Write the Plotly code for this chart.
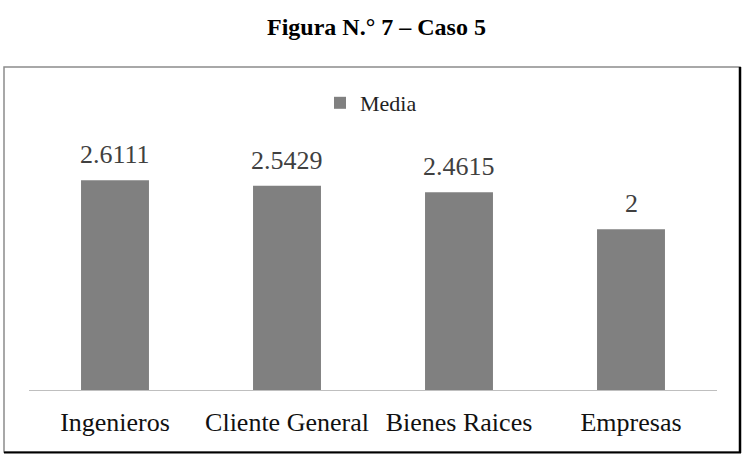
import plotly.graph_objects as go

categories = ["Ingenieros", "Cliente General", "Bienes Raices", "Empresas"]
media_values = [2.6111, 2.5429, 2.4615, 2]
value_labels = ["2.6111", "2.5429", "2.4615", "2"]
series_name = "Media"
title_text = "<b>Figura N.° 7 – Caso 5</b>"

W, H = 748, 457
L, R, T, B = 29, 31, 149, 67
pw, ph = W - L - R, H - T - B

def px(x):
    return (x - L) / pw

def py(y):
    return (H - B - y) / ph

serif = "Liberation Serif"

fig = go.Figure()
fig.add_trace(go.Bar(
    x=categories, y=media_values, name=series_name,
    marker=dict(color="#808080", line=dict(width=0)),
    width=0.395, showlegend=True,
))

for c, v, t in zip(categories, media_values, value_labels):
    fig.add_annotation(x=c, y=v, text=t, showarrow=False, xanchor="center",
                       yanchor="bottom", yshift=9,
                       font=dict(family=serif, size=26, color="#404040"))

fig.update_layout(
    width=W, height=H,
    margin=dict(l=L, r=R, t=T, b=B),
    paper_bgcolor="white", plot_bgcolor="white",
    font=dict(family=serif, color="#000000"),
    showlegend=True,
    legend=dict(x=px(371), y=py(103), xanchor="center", yanchor="middle",
                orientation="h", font=dict(family=serif, size=22, color="#222222"),
                itemwidth=30, bgcolor="rgba(0,0,0,0)"),
    xaxis=dict(showline=True, linecolor="#bfbfbf", linewidth=1, ticks="",
               showgrid=False, ticklabelstandoff=9,
               tickfont=dict(family=serif, size=26, color="#111111")),
    yaxis=dict(range=[0, 3], visible=False, showgrid=False, zeroline=False),
    bargap=0.6,
)

fig.add_annotation(text=title_text, xref="paper", yref="paper",
                   x=px(376), y=py(27), xanchor="center", yanchor="middle",
                   showarrow=False, font=dict(family=serif, size=24, color="#000000"))

# chart border
fig.add_shape(type="rect", xref="paper", yref="paper",
              x0=px(4), x1=px(740), y0=py(452), y1=py(67),
              line=dict(color="#8c8c8c", width=1.5), layer="below")
fig.add_shape(type="line", xref="paper", yref="paper",
              x0=px(740), x1=px(740), y0=py(453), y1=py(67),
              line=dict(color="#000000", width=2.5))
fig.add_shape(type="line", xref="paper", yref="paper",
              x0=px(4), x1=px(741), y0=py(452.5), y1=py(452.5),
              line=dict(color="#000000", width=2))

fig.write_html("out.html", config={"displayModeBar": False},
               post_script="document.body.style.margin='0';")
